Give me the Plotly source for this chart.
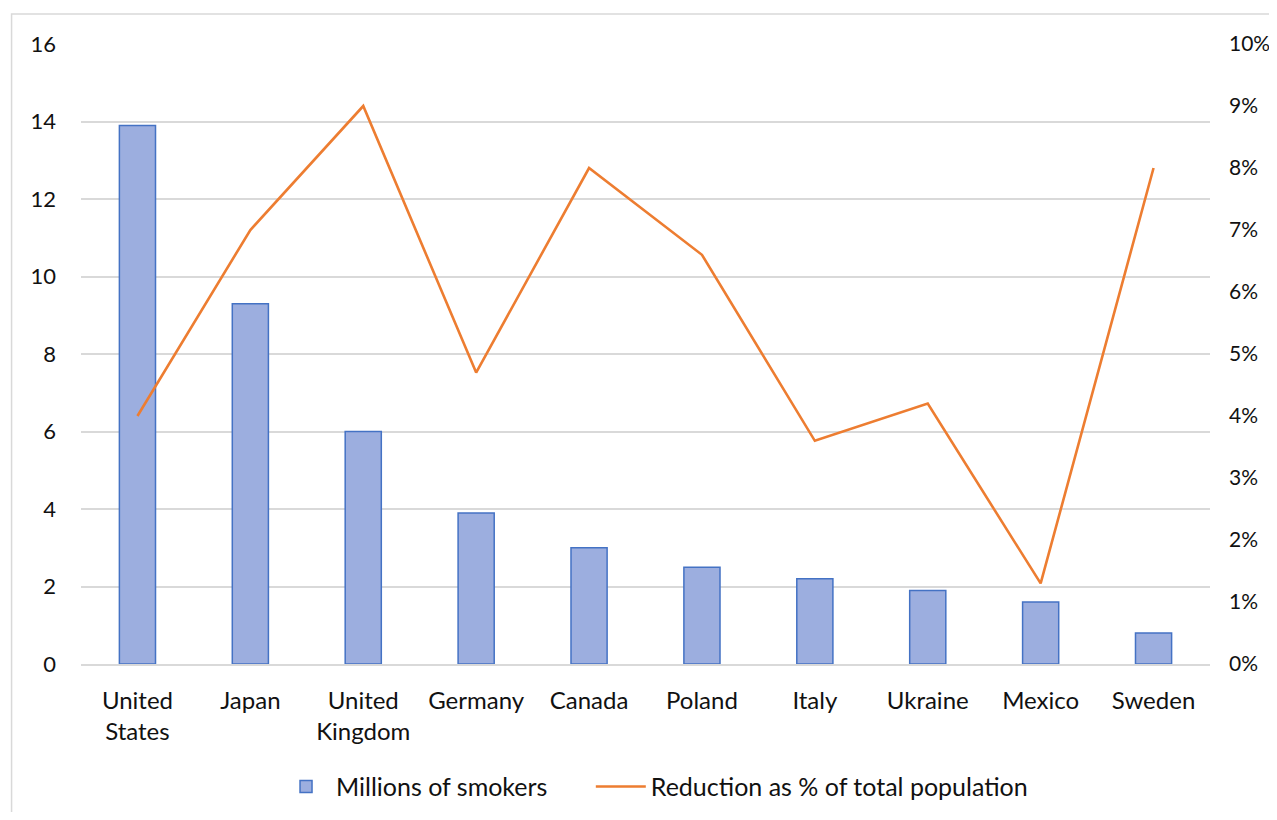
import plotly.graph_objects as go

FONT_FAMILY = "Lato, 'Open Sans', Arial, sans-serif"

countries = ["United<br>States", "Japan", "United<br>Kingdom", "Germany", "Canada",
             "Poland", "Italy", "Ukraine", "Mexico", "Sweden"]
smokers_millions = [13.9, 9.3, 6.0, 3.9, 3.0, 2.5, 2.2, 1.9, 1.6, 0.8]
reduction_pct = [0.040, 0.070, 0.090, 0.047, 0.080, 0.066, 0.036, 0.042, 0.013, 0.080]

GAP = "\u00a0" * 6  # extra room between legend entries, as in Excel

fig = go.Figure()
fig.add_trace(go.Bar(
    x=countries, y=smokers_millions, name="Millions of smokers" + GAP,
    width=0.32,
    marker=dict(color="#9CAEDF", line=dict(color="#4472C4", width=1.5)),
))
fig.add_trace(go.Scatter(
    x=countries, y=reduction_pct, name="Reduction as % of total population",
    mode="lines", yaxis="y2",
    line=dict(color="#ED7D31", width=2.6),
))

# chart-area border (Excel style)
fig.add_shape(type="rect", xref="paper", yref="paper",
              x0=-0.0615, x1=1.1, y0=-0.4, y1=1.0484,
              line=dict(color="#D9D9D9", width=1.5), layer="below")

# page body has an 8px margin, so figure is shrunk and shifted to fit the window
fig.update_layout(
    width=1262, height=804,
    margin=dict(l=72.5, r=59.5, t=36, b=148, autoexpand=False),
    paper_bgcolor="white", plot_bgcolor="white",
    font=dict(family=FONT_FAMILY, size=24, color="#111111"),
    showlegend=True,
    legend=dict(orientation="h", x=0.508, y=-0.198, xanchor="center", yanchor="middle",
                font=dict(size=25), itemwidth=50, traceorder="normal"),
    xaxis=dict(showgrid=False, showline=True, linecolor="#D9D9D9", linewidth=1.5,
               ticks="", tickfont=dict(size=24), ticklabelstandoff=14, automargin=False),
    yaxis=dict(range=[0, 16], dtick=2, showgrid=True, gridcolor="#D9D9D9", gridwidth=1.5,
               zeroline=False, ticks="", ticklabelstandoff=24, tickfont=dict(size=22),
               automargin=False),
    yaxis2=dict(range=[0, 0.10], dtick=0.01, tickformat=".0%", overlaying="y", side="right",
                showgrid=False, zeroline=False, ticks="", ticklabelstandoff=18,
                tickfont=dict(size=21), automargin=False),
    bargap=0.68,
)

fig.write_html("out.html")
